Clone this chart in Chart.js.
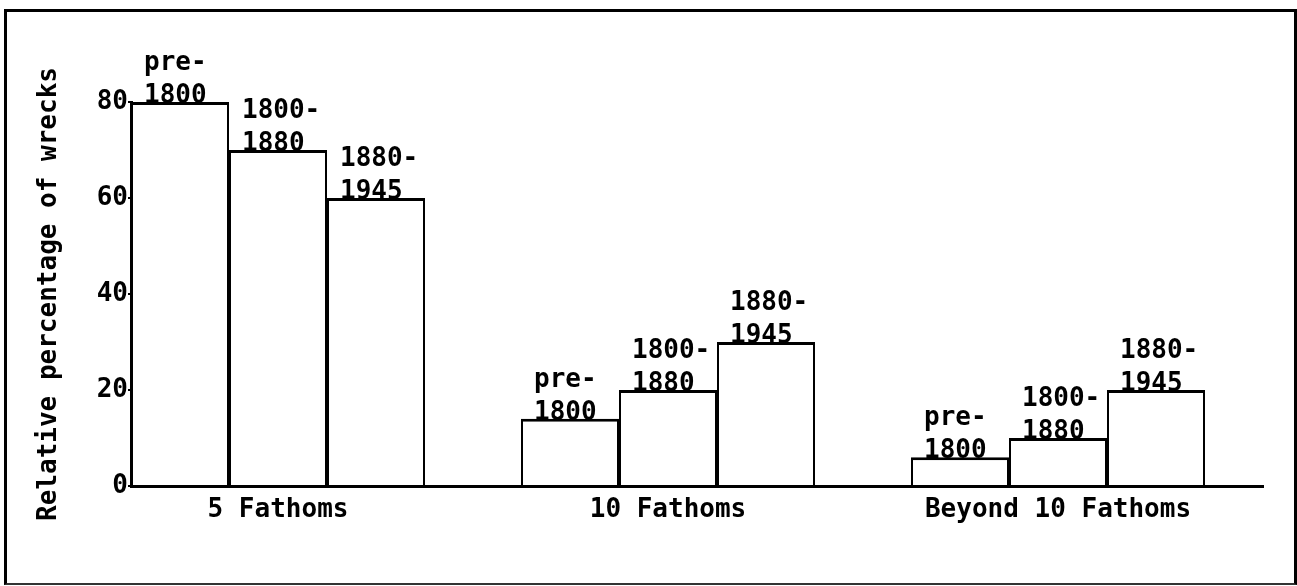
<!DOCTYPE html>
<html>
<head>
<meta charset="utf-8">
<script src="https://cdn.jsdelivr.net/npm/chart.js@4"></script>
<style>
  html, body { margin: 0; padding: 0; background: #fff; }
  #wrap { position: relative; width: 1297px; height: 586px; overflow: hidden; }
  #c { position: absolute; left: 0; top: 0; }
  #frame { position: absolute; left: 4px; top: 9px; width: 1293px; height: 576px;
           box-sizing: border-box; border: 3px solid #000; border-bottom: 2px solid #333;
           pointer-events: none; }
</style>
</head>
<body>
<div id="wrap">
  <canvas id="c" width="1297" height="586"></canvas>
  <div id="frame"></div>
</div>
<script>
// ---- data ----
const categories = ["5 Fathoms", "10 Fathoms", "Beyond 10 Fathoms"];
const periods = ["pre-1800", "1800-1880", "1880-1945"];
const periodLabelLines = [["pre-", "1800"], ["1800-", "1880"], ["1880-", "1945"]];
const pre1800 = [80, 14, 6];
const from1800to1880 = [70, 20, 10];
const from1880to1945 = [60, 30, 20];
const yTicks = [0, 20, 40, 60, 80];
const yTitle = "Relative percentage of wrecks";

const seriesValues = [pre1800, from1800to1880, from1880to1945];
const FONT = "'DejaVu Sans Mono', monospace";
const WEIGHT = "bold";

const datasets = seriesValues.map((vals, i) => ({
  label: periods[i],
  data: vals.map((v, j) => ({ x: j, y: v })),
  backgroundColor: "#ffffff",
  borderColor: "#000000",
  borderWidth: { top: 3, left: 2, right: 2, bottom: 0 },
  borderSkipped: false,
  categoryPercentage: 294 / 390,
  barPercentage: 1.0
}));

const barLabelPlugin = {
  id: "barLabels",
  afterDatasetsDraw(chart) {
    const ctx = chart.ctx;
    ctx.save();
    ctx.font = WEIGHT + " 26px " + FONT;
    ctx.fillStyle = "#000";
    ctx.textAlign = "left";
    ctx.textBaseline = "alphabetic";
    chart.data.datasets.forEach((ds, i) => {
      const meta = chart.getDatasetMeta(i);
      meta.data.forEach((bar) => {
        const left = bar.x - bar.width / 2 + 13;
        const lines = periodLabelLines[i];
        ctx.fillText(lines[0], left, bar.y - 32);
        ctx.fillText(lines[1], left, bar.y + 1);
      });
    });
    ctx.restore();
  }
};

const xMin = -147 / 390;
const xMax = xMin + 1132 / 390;

new Chart(document.getElementById("c"), {
  type: "bar",
  data: { datasets },
  options: {
    responsive: false,
    animation: false,
    devicePixelRatio: 1,
    layout: { padding: { top: 102, right: 34, left: 0, bottom: 0 } },
    plugins: { legend: { display: false }, tooltip: { enabled: false } },
    scales: {
      x: {
        type: "linear",
        min: xMin,
        max: xMax,
        offset: false,
        grid: { display: false },
        border: { display: true, color: "#000", width: 3 },
        afterBuildTicks: (scale) => { scale.ticks = categories.map((c, i) => ({ value: i })); },
        afterFit: (scale) => { scale.height = 100; },
        ticks: {
          autoSkip: false,
          maxRotation: 0,
          padding: 1,
          color: "#000",
          font: { family: FONT, size: 26, weight: WEIGHT },
          callback: (v, idx) => categories[idx]
        }
      },
      y: {
        min: 0,
        max: 80,
        afterBuildTicks: (scale) => { scale.ticks = yTicks.map(v => ({ value: v })); },
        afterFit: (scale) => { scale.width = 131; },
        grid: { display: true, drawOnChartArea: false, drawTicks: true, tickLength: 3, color: "#000", lineWidth: 2 },
        border: { display: true, color: "#000", width: 3 },
        ticks: {
          padding: 0,
          color: "#000",
          font: { family: FONT, size: 26, weight: WEIGHT }
        },
        title: {
          display: true,
          text: yTitle,
          color: "#000",
          font: { family: FONT, size: 26, weight: WEIGHT },
          padding: { top: 34, bottom: 0 }
        }
      }
    }
  },
  plugins: [barLabelPlugin]
});
</script>
</body>
</html>
